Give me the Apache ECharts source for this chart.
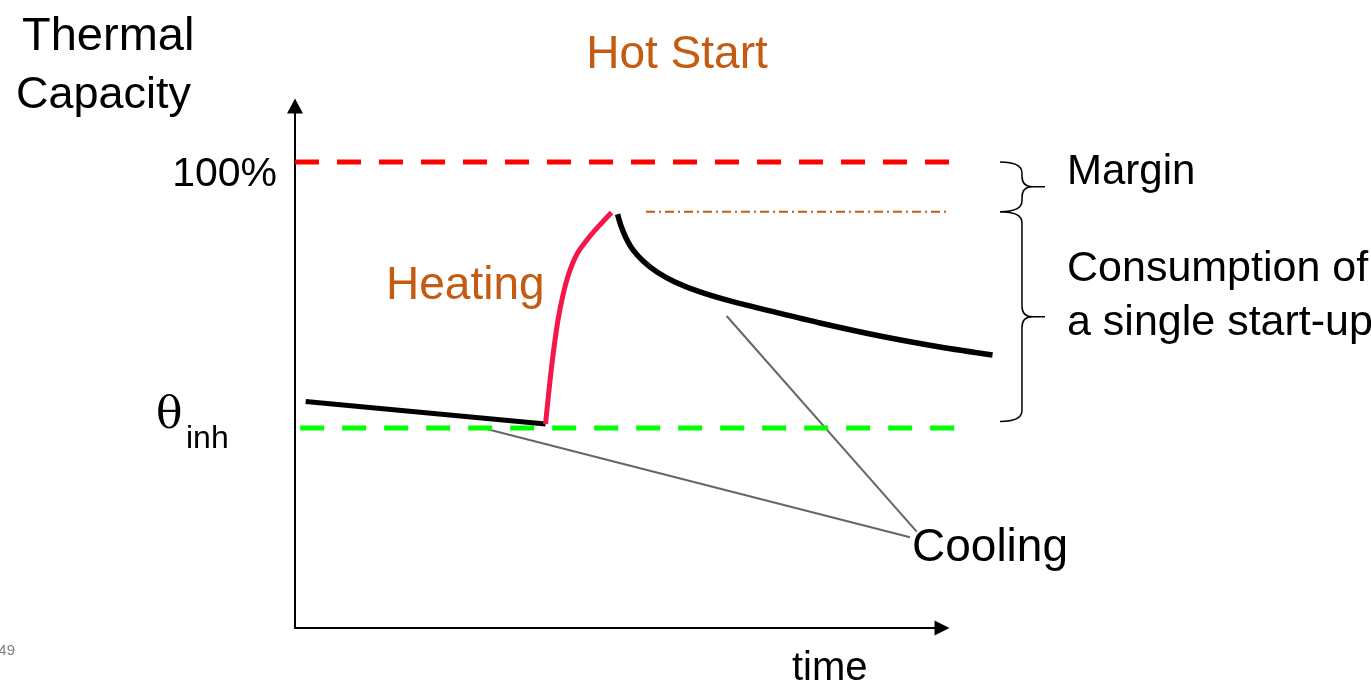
<!DOCTYPE html>
<html><head><meta charset="utf-8">
<script src="https://cdn.jsdelivr.net/npm/echarts@6/dist/echarts.min.js"></script>
<style>html,body{margin:0;padding:0;background:#fff}#c{width:1371px;height:683px}</style>
</head><body><div id="c"></div>
<script>
// ---- data (time units on x, thermal capacity % on y) ----
const fullLevel = 100;       // 100 % capacity
const inhibitLevel = 42.9;   // theta_inh
const peakLevel = 89.3;      // peak after a single hot start-up
const fullLine = [[0, fullLevel], [102.5, fullLevel]];
const inhibitLine = [[0.8, inhibitLevel], [102.5, inhibitLevel]];
const peakRefLine = [[54.25, peakLevel], [100.9, peakLevel]];
const coolingBefore = [[1.65, 48.6], [38.72, 43.78]];
const heating = [[38.72, 43.78], [39.26, 51.07], [39.88, 58.58], [40.65, 66.09], [41.42, 71.46], [42.35, 76.18], [43.59, 80.26], [45.13, 83.26], [46.83, 86.05], [48.92, 89.16]];
const coolingAfter = [[49.85, 88.76], [50.39, 86.27], [51.16, 83.69], [52.24, 81.12], [53.79, 78.76], [55.95, 76.39], [58.73, 74.25], [62.60, 72.10], [67.23, 70.17], [73.42, 68.03], [81.14, 65.45], [90.42, 62.66], [99.69, 60.30], [107.81, 58.58]];
const leaderA = [[28.86, 42.98], [95.05, 19.46]];
const leaderB = [[66.72, 66.95], [96.09, 20.67]];
const braceX = 108.96;
const braces = [[braceX, fullLevel, peakLevel], [braceX, peakLevel, 44.3]];

const FONT = "'Liberation Sans', Arial, sans-serif";
const orange = '#C55A11';

const chart = echarts.init(document.getElementById('c'), null, {renderer: 'canvas'});

function lineSeries(data, color, width, type, z) {
  return {
    type: 'line', xAxisIndex: 1, yAxisIndex: 1,
    data: data, showSymbol: false, symbol: 'none', clip: false,
    silent: true, animation: false, z: z || 2,
    lineStyle: {color: color, width: width, type: type || 'solid', cap: 'butt', join: 'round'}
  };
}

const heatSeries = lineSeries(heating, '#F5164A', 5, 'solid', 3);
heatSeries.smooth = 0.3;
const coolSeries = lineSeries(coolingAfter, '#000', 5.5, 'solid', 3);
coolSeries.smooth = 0.3;

const hiddenAxis = {show: false, axisLine: {show: false}, axisTick: {show: false}, axisLabel: {show: false}, splitLine: {show: false}};

const option = {
  backgroundColor: '#fff',
  animation: false,
  grid: [
    {left: 295, right: 429, top: 106, bottom: 55, containLabel: false},
    {left: 295, right: 364.3, top: 106, bottom: 55, containLabel: false}
  ],
  xAxis: [{
    type: 'value', gridIndex: 0, min: 0, max: 100,
    axisLine: {show: true, symbol: ['none', 'triangle'], symbolSize: [15, 15], lineStyle: {color: '#000', width: 2}},
    axisTick: {show: false}, axisLabel: {show: false}, splitLine: {show: false}
  }, Object.assign({type: 'value', gridIndex: 1, min: 0, max: 110}, hiddenAxis)],
  yAxis: [{
    type: 'value', gridIndex: 0, min: 0, max: 112,
    axisLine: {show: true, symbol: ['none', 'triangle'], symbolSize: [16, 15], lineStyle: {color: '#000', width: 2}},
    axisTick: {show: false}, axisLabel: {show: false}, splitLine: {show: false}
  }, Object.assign({type: 'value', gridIndex: 1, min: 0, max: 112}, hiddenAxis)],
  series: [
    lineSeries(fullLine, '#FF0000', 5, [24, 18], 2),
    lineSeries(inhibitLine, '#00FF00', 5, [24, 18], 2),
    lineSeries(peakRefLine, orange, 2, [9, 4, 2, 4], 2),
    lineSeries(coolingBefore, '#000', 5, 'solid', 3),
    heatSeries,
    coolSeries,
    lineSeries(leaderA, '#666666', 2, 'solid', 1),
    lineSeries(leaderB, '#666666', 2, 'solid', 1),
    {
      type: 'custom', xAxisIndex: 1, yAxisIndex: 1, clip: false, silent: true, animation: false,
      encode: {x: 0, y: [1, 2]},
      data: braces,
      renderItem: function (params, api) {
        const p1 = api.coord([api.value(0), api.value(1)]);
        const p2 = api.coord([api.value(0), api.value(2)]);
        const x0 = p1[0], y1 = p1[1], y2 = p2[1], ym = (y1 + y2) / 2;
        const w1 = 22, w2 = 45;
        const r = Math.min(11, (y2 - y1) / 4);
        const d = 'M' + x0 + ' ' + y1 +
          ' Q' + (x0 + w1) + ' ' + y1 + ' ' + (x0 + w1) + ' ' + (y1 + r) +
          ' L' + (x0 + w1) + ' ' + (ym - r) +
          ' Q' + (x0 + w1) + ' ' + ym + ' ' + (x0 + w1 + 10) + ' ' + ym +
          ' L' + (x0 + w2) + ' ' + ym +
          ' M' + (x0 + w1 + 10) + ' ' + ym +
          ' Q' + (x0 + w1) + ' ' + ym + ' ' + (x0 + w1) + ' ' + (ym + r) +
          ' L' + (x0 + w1) + ' ' + (y2 - r) +
          ' Q' + (x0 + w1) + ' ' + y2 + ' ' + x0 + ' ' + y2;
        return {type: 'path', shape: {pathData: d}, style: {stroke: '#000', fill: null, lineWidth: 1.5}};
      }
    }
  ],
  graphic: [
    {type: 'text', x: 22, y: 37, style: {text: 'Thermal', font: '47px ' + FONT, fill: '#000', textAlign: 'left', textVerticalAlign: 'middle'}},
    {type: 'text', x: 16, y: 96, style: {text: 'Capacity', font: '45px ' + FONT, fill: '#000', textAlign: 'left', textVerticalAlign: 'middle'}},
    {type: 'text', x: 677, y: 55, style: {text: 'Hot Start', font: '46px ' + FONT, fill: orange, textAlign: 'center', textVerticalAlign: 'middle'}},
    {type: 'text', x: 277, y: 175, style: {text: '100%', font: '41px ' + FONT, fill: '#000', textAlign: 'right', textVerticalAlign: 'middle'}},
    {type: 'text', x: 156, y: 417, style: {text: 'θ', font: '44px "DejaVu Serif", "Liberation Serif", serif', fill: '#000', textAlign: 'left', textVerticalAlign: 'middle'}},
    {type: 'text', x: 186, y: 439, style: {text: 'inh', font: '32px ' + FONT, fill: '#000', textAlign: 'left', textVerticalAlign: 'middle'}},
    {type: 'text', x: 386, y: 286, style: {text: 'Heating', font: '46px ' + FONT, fill: orange, textAlign: 'left', textVerticalAlign: 'middle'}},
    {type: 'text', x: 1067, y: 172, style: {text: 'Margin', font: '42px ' + FONT, fill: '#000', textAlign: 'left', textVerticalAlign: 'middle'}},
    {type: 'text', x: 1067, y: 269, style: {text: 'Consumption of', font: '43px ' + FONT, fill: '#000', textAlign: 'left', textVerticalAlign: 'middle'}},
    {type: 'text', x: 1067, y: 323, style: {text: 'a single start-up', font: '43px ' + FONT, fill: '#000', textAlign: 'left', textVerticalAlign: 'middle'}},
    {type: 'text', x: 912, y: 548, style: {text: 'Cooling', font: '46px ' + FONT, fill: '#000', textAlign: 'left', textVerticalAlign: 'middle'}},
    {type: 'text', x: 792, y: 669, style: {text: 'time', font: '40px ' + FONT, fill: '#000', textAlign: 'left', textVerticalAlign: 'middle'}},
    {type: 'text', x: 15, y: 651, style: {text: '49', font: '15px ' + FONT, fill: '#808080', textAlign: 'right', textVerticalAlign: 'middle'}}
  ]
};
chart.setOption(option);
</script>
</body></html>
